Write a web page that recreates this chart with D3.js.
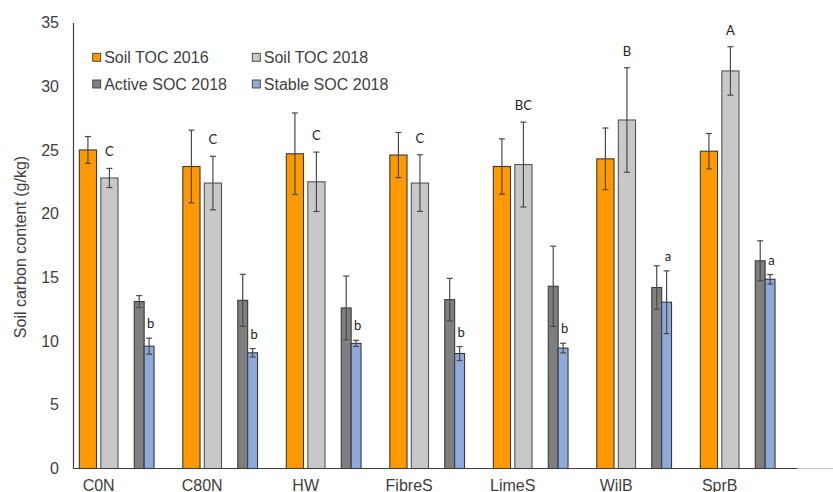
<!DOCTYPE html>
<html>
<head>
<meta charset="utf-8">
<script src="https://cdn.jsdelivr.net/npm/d3@7"></script>
<style>
  html, body { margin: 0; padding: 0; background: #fff; }
  svg { display: block; }
</style>
</head>
<body>
<svg id="chart" width="833" height="492"></svg>
<script>
// Treatments
const categories = ["C0N", "C80N", "HW", "FibreS", "LimeS", "WilB", "SprB"];

// Soil total organic carbon (g/kg) with standard errors
const toc2016 = [25.0, 23.7, 24.7, 24.6, 23.7, 24.3, 24.9];
const toc2016Err = [1.05, 2.85, 3.2, 1.77, 2.17, 2.42, 1.39];
const toc2018 = [22.8, 22.4, 22.5, 22.4, 23.85, 27.35, 31.2];
const toc2018Err = [0.75, 2.1, 2.33, 2.22, 3.33, 4.1, 1.9];

// Soil organic carbon fractions in 2018 (g/kg)
const activeSoc = [13.1, 13.2, 12.6, 13.25, 14.3, 14.2, 16.3];
const activeSocErr = [0.47, 2.04, 2.5, 1.67, 3.15, 1.71, 1.57];
const stableSoc = [9.6, 9.08, 9.82, 9.02, 9.45, 13.05, 14.85];
const stableSocErr = [0.63, 0.33, 0.24, 0.55, 0.38, 2.46, 0.37];

// Significance letters
const tocLetters = ["C", "C", "C", "C", "BC", "B", "A"];
const socLetters = ["b", "b", "b", "b", "b", "a", "a"];

const yTicks = [0, 5, 10, 15, 20, 25, 30, 35];

const seriesNames = ["Soil TOC 2016", "Soil TOC 2018", "Active SOC 2018", "Stable SOC 2018"];
const seriesColors = ["#ff9900", "#c8c8c8", "#7f7f7f", "#8eaadb"];

const svg = d3.select("#chart");
const textColor = "#404040";
const axisFont = "'Liberation Sans', Arial, sans-serif";

const x = d3.scaleBand().domain(categories).range([73, 797.5]).padding(0);
const y = d3.scaleLinear().domain([0, 35]).range([468.5, 22.5]);

const bw = x.bandwidth();
// TOC pair on the left of each group, SOC fractions on the right
const xToc = d3.scaleBand().domain([0, 1]).range([bw * 0.061, bw * 0.435]).paddingInner(0.2);
const xSoc = d3.scaleBand().domain([0, 1]).range([bw * 0.592, bw * 0.783]).padding(0);

const rows = categories.map((c, i) => ({
  cat: c,
  bars: [
    { s: 0, v: toc2016[i], e: toc2016Err[i], sub: xToc, k: 0 },
    { s: 1, v: toc2018[i], e: toc2018Err[i], sub: xToc, k: 1 },
    { s: 2, v: activeSoc[i], e: activeSocErr[i], sub: xSoc, k: 0 },
    { s: 3, v: stableSoc[i], e: stableSocErr[i], sub: xSoc, k: 1 }
  ],
  tocLetter: tocLetters[i],
  socLetter: socLetters[i]
}));

// Y axis
const yAxis = d3.axisLeft(y).tickValues(yTicks).tickSize(0).tickPadding(14);
const gy = svg.append("g").attr("transform", "translate(73,0)").call(yAxis);
gy.select(".domain").attr("stroke", "#404040").attr("stroke-width", 1.2);
gy.selectAll("text")
  .attr("font-family", axisFont).attr("font-size", 16).attr("fill", textColor);

// Secondary baseline continuing to the right edge
svg.append("line")
  .attr("x1", 797.5).attr("x2", 833)
  .attr("y1", y(0)).attr("y2", y(0))
  .attr("stroke", "#c0c0c0").attr("stroke-width", 1.2);

// Bars
const groups = svg.selectAll("g.cat").data(rows).join("g")
  .attr("class", "cat")
  .attr("transform", d => `translate(${x(d.cat)},0)`);

groups.selectAll("rect.bar").data(d => d.bars).join("rect")
  .attr("class", "bar")
  .attr("x", d => d.sub(d.k))
  .attr("width", d => d.sub.bandwidth())
  .attr("y", d => y(d.v))
  .attr("height", d => y(0) - y(d.v))
  .attr("fill", d => seriesColors[d.s])
  .attr("stroke", d => d.s === 1 ? "#555" : "#3a3a3a")
  .attr("stroke-width", 1.1);

// Error bars
const eb = groups.selectAll("g.err").data(d => d.bars).join("g").attr("class", "err")
  .attr("stroke", "#4a4a4a").attr("stroke-width", 1.2);
eb.append("line")
  .attr("x1", d => d.sub(d.k) + d.sub.bandwidth() / 2)
  .attr("x2", d => d.sub(d.k) + d.sub.bandwidth() / 2)
  .attr("y1", d => y(d.v + d.e))
  .attr("y2", d => y(d.v - d.e));
[1, -1].forEach(sign => {
  eb.append("line")
    .attr("x1", d => d.sub(d.k) + d.sub.bandwidth() / 2 - 3)
    .attr("x2", d => d.sub(d.k) + d.sub.bandwidth() / 2 + 3)
    .attr("y1", d => y(d.v + sign * d.e))
    .attr("y2", d => y(d.v + sign * d.e));
});

// X axis baseline
svg.append("line")
  .attr("x1", 73).attr("x2", 797.5)
  .attr("y1", y(0)).attr("y2", y(0))
  .attr("stroke", "#404040").attr("stroke-width", 1.2);

// Significance letters
const letterFont = "Lato, 'Open Sans', sans-serif";
groups.append("text")
  .attr("x", xToc(1) + xToc.bandwidth() / 2)
  .attr("y", (d, i) => y(toc2018[i] + toc2018Err[i]) - 12)
  .attr("text-anchor", "middle")
  .attr("font-family", letterFont).attr("font-size", 13).attr("fill", "#222")
  .text(d => d.tocLetter);
groups.append("text")
  .attr("x", xSoc(1) + xSoc.bandwidth() / 2 + 1.5)
  .attr("y", (d, i) => y(stableSoc[i] + stableSocErr[i]) - 10)
  .attr("text-anchor", "middle")
  .attr("font-family", letterFont).attr("font-size", 13).attr("fill", "#222")
  .text(d => d.socLetter);

// Category labels
groups.append("text")
  .attr("x", (xToc(0) + xToc(1) + xToc.bandwidth()) / 2)
  .attr("y", 490.5)
  .attr("text-anchor", "middle")
  .attr("font-family", axisFont).attr("font-size", 16).attr("fill", textColor)
  .text(d => d.cat);

// Y axis title
svg.append("text")
  .attr("transform", "translate(26,247) rotate(-90)")
  .attr("text-anchor", "middle")
  .attr("font-family", axisFont).attr("font-size", 16).attr("fill", textColor)
  .text("Soil carbon content (g/kg)");

// Legend
const legendCols = [92.7, 252.3];
const legendRows = [57.3, 84];
const legend = svg.selectAll("g.legend").data(seriesNames).join("g")
  .attr("class", "legend")
  .attr("transform", (d, i) => `translate(${legendCols[i % 2]},${legendRows[Math.floor(i / 2)]})`);
legend.append("rect")
  .attr("x", 0).attr("y", -4).attr("width", 8).attr("height", 8)
  .attr("fill", (d, i) => seriesColors[i])
  .attr("stroke", "#404040").attr("stroke-width", 0.9);
legend.append("text")
  .attr("x", 11.5).attr("y", 5.8)
  .attr("font-family", axisFont).attr("font-size", 16).attr("fill", textColor)
  .text(d => d);
</script>
</body>
</html>
